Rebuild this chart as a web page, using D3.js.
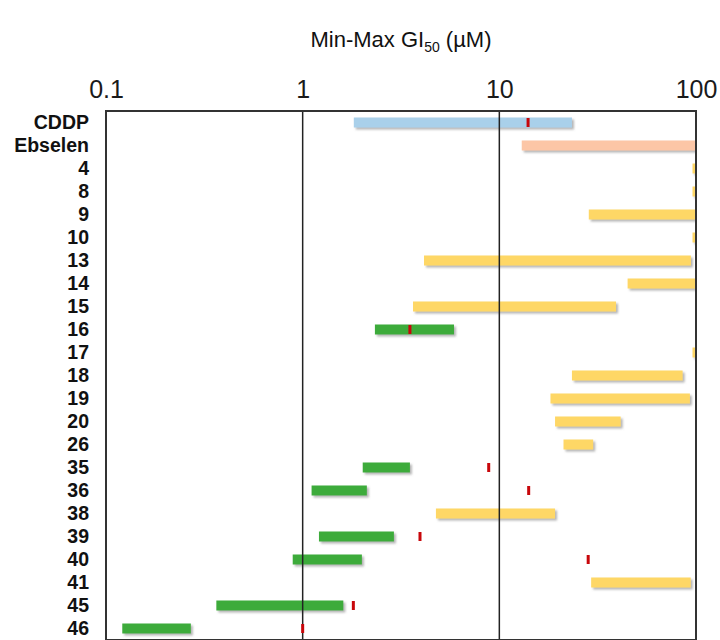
<!DOCTYPE html>
<html>
<head>
<meta charset="utf-8">
<script src="https://cdn.jsdelivr.net/npm/d3@7"></script>
<style>
  html, body { margin: 0; padding: 0; background: #fff; }
  svg { display: block; }
</style>
</head>
<body>
<svg id="chart" width="720" height="640"></svg>
<script>
const categories = ["CDDP","Ebselen","4","8","9","10","13","14","15","16","17","18","19","20","26","35","36","38","39","40","41","45","46"];
const minValues  = [1.82, 13.0, 96, 96, 28.5, 96, 4.14, 44.9, 3.64, 2.33, 96, 23.4, 18.2, 19.2, 21.2, 2.02, 1.11, 4.76, 1.21, 0.89, 29.3, 0.364, 0.121];
const maxValues  = [23.4, 100, 100, 100, 100, 100, 94.2, 100, 39.2, 5.88, 100, 85.5, 93.1, 41.4, 30.0, 3.51, 2.12, 19.2, 2.91, 2.0, 94, 1.61, 0.270];
const markValues = [14.0, null, null, null, null, null, null, null, null, 3.51, null, null, null, null, null, 8.83, 14.1, null, 3.95, 28.3, null, 1.81, 1.0];
const groups     = ["cddp","ebselen","inactive","inactive","inactive","inactive","inactive","inactive","inactive","active","inactive","inactive","inactive","inactive","inactive","active","active","inactive","active","active","inactive","active","active"];
const tickValues = [0.1, 1, 10, 100];
const tickLabels = ["0.1", "1", "10", "100"];
const gridValues = [1, 10];

const colorMap = { cddp: "#a9d0ea", ebselen: "#fcc6a6", inactive: "#fed766", active: "#3dab3a" };

(function () {
const svg = d3.select("#chart");
const pL = 106, pR = 696, pT = 111, pB = 640;

const defs = svg.append("defs");
const f = defs.append("filter").attr("id", "shadow").attr("x", "-10%").attr("y", "-50%").attr("width", "130%").attr("height", "250%");
f.append("feDropShadow").attr("dx", 2).attr("dy", 2).attr("stdDeviation", 1.3)
  .attr("flood-color", "#777").attr("flood-opacity", 0.55);
defs.append("clipPath").attr("id", "clip").append("rect")
  .attr("x", pL).attr("y", pT).attr("width", pR - pL).attr("height", pB - pT);

const x = d3.scaleLog().domain([0.1, 100]).range([pL, pR]);
const y = d3.scaleBand().domain(categories).range([pT, pB]).paddingInner(0).paddingOuter(0);

// Title
const title = svg.append("text")
  .attr("x", 401).attr("y", 47)
  .attr("text-anchor", "middle")
  .attr("font-family", "Liberation Sans, Arial, sans-serif")
  .attr("font-size", 22).attr("fill", "#111");
title.append("tspan").text("Min-Max GI");
title.append("tspan").attr("font-size", 14).attr("dy", 5).text("50");
title.append("tspan").attr("dy", -5).text(" (µM)");

// Top tick labels
const axis = d3.axisTop(x).tickValues(tickValues).tickFormat((d, i) => tickLabels[i]).tickSize(0).tickPadding(0);
const axG = svg.append("g").attr("transform", `translate(0, 98)`).call(axis);
axG.select(".domain").remove();
axG.selectAll("text")
  .attr("font-family", "Liberation Sans, Arial, sans-serif")
  .attr("font-size", 25).attr("fill", "#1a1a1a").attr("dy", 0);

// Category labels
const yAxis = d3.axisLeft(y).tickSize(0).tickPadding(0);
const yG = svg.append("g").attr("transform", `translate(89, 0)`).call(yAxis);
yG.select(".domain").remove();
yG.selectAll("text")
  .attr("font-family", "Liberation Sans, Arial, sans-serif")
  .attr("font-weight", "bold").attr("font-size", 19.5).attr("fill", "#111");

// Bars
const barH = 10;
const plot = svg.append("g").attr("clip-path", "url(#clip)");
plot.selectAll("rect.bar").data(categories).enter().append("rect")
  .attr("class", "bar")
  .attr("x", (d, i) => x(minValues[i]))
  .attr("width", (d, i) => x(maxValues[i]) - x(minValues[i]))
  .attr("y", d => y(d) + y.bandwidth() / 2 - barH / 2)
  .attr("height", barH)
  .attr("fill", (d, i) => colorMap[groups[i]])
  .attr("filter", "url(#shadow)");

// Grid lines
svg.selectAll("line.grid").data(gridValues).enter().append("line")
  .attr("x1", d => x(d)).attr("x2", d => x(d))
  .attr("y1", pT).attr("y2", pB)
  .attr("stroke", "#222").attr("stroke-width", 1.5);

// Markers
const markData = categories.map((c, i) => ({ c, v: markValues[i] })).filter(d => d.v != null);
svg.selectAll("rect.mark").data(markData).enter().append("rect")
  .attr("class", "mark")
  .attr("x", d => x(d.v) - 1.5)
  .attr("width", 3)
  .attr("y", d => y(d.c) + y.bandwidth() / 2 - 4.5)
  .attr("height", 9)
  .attr("fill", "#c8070b");

// Box
svg.append("rect")
  .attr("x", pL).attr("y", pT)
  .attr("width", pR - pL).attr("height", pB - pT)
  .attr("fill", "none").attr("stroke", "#333").attr("stroke-width", 2);
})();
</script>
</body>
</html>
